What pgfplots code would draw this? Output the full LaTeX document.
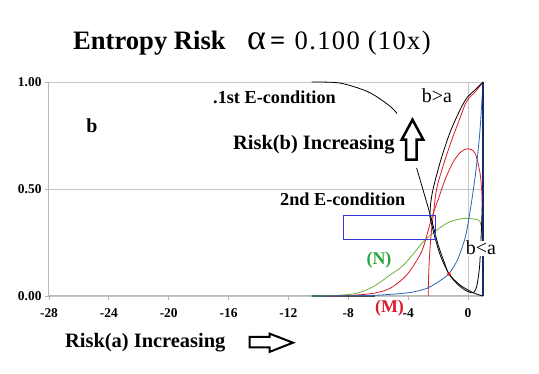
\documentclass[border=0pt]{standalone}
\usepackage{fontspec}
\setmainfont{Liberation Serif}
\usepackage{pgfplots}
\pgfplotsset{compat=1.18}
\definecolor{cgreen}{RGB}{110,178,60}
\definecolor{cred}{RGB}{220,25,40}
\definecolor{cblue}{RGB}{40,100,180}
\definecolor{cnavy}{RGB}{25,40,110}
\definecolor{cbox}{RGB}{55,55,225}
\definecolor{ngreen}{RGB}{40,165,60}
\begin{document}
\begin{tikzpicture}
\path[use as bounding box] (0,0) rectangle (539bp,374bp);
\begin{axis}[
  at={(49bp,78bp)}, anchor=south west,
  scale only axis, width=434bp, height=214bp,
  xmin=-28, xmax=1, ymin=0, ymax=1,
  axis lines*=left,
  axis line style={gray!55, line width=1bp},
  xtick={-28,-24,...,0}, ytick={0,0.5,1},
  ymajorgrids, grid style={gray!45, line width=0.8bp},
  tick align=outside, major tick length=4bp,
  tick style={gray!60, line width=0.8bp},
  /pgf/number format/assume math mode=true,
  yticklabel style={/pgf/number format/.cd, fixed, fixed zerofill, precision=2},
  xticklabel style={yshift=-5bp},
  ticklabel style={font=\bfseries\fontsize{13.5}{14}\selectfont},
  clip=false,
]
\draw[gray!45, line width=0.8bp] (axis cs:0,0) -- (axis cs:0,1);
% dark overlap along axis
\addplot[black!70, line width=1.8bp] coordinates {(-10.45,0) (-6.2,0)};
% green (N)
\addplot[cgreen, line width=0.8bp, smooth] coordinates {
(-10.5,0) (-9,0.002) (-7.44,0.0126) (-6.3,0.045) (-5.21,0.098) (-4.55,0.13) (-4.1,0.16) (-3.5,0.21) (-2.99,0.254) (-2.32,0.295) (-1.42,0.34) (-0.7,0.357) (-0.09,0.363) (0.69,0.355) (0.85,0.335) (0.95,0.28) (1,0)};
% red hump (M)
\addplot[cred, line width=0.8bp, smooth] coordinates {
(-9.5,0) (-8,0.002) (-6.33,0.0126) (-5.21,0.036) (-4.1,0.098) (-3.21,0.192) (-2.87,0.254) (-2.45,0.36) (-2.0,0.45) (-1.5,0.55) (-1.0,0.625) (-0.5,0.672) (0,0.688) (0.47,0.667) (0.8,0.575) (0.93,0.47) (0.98,0.3) (1,0)};
% red steep
\addplot[cred, line width=0.8bp, smooth] coordinates {
(-2.66,0) (-2.63,0.1) (-2.56,0.2) (-2.45,0.3) (-2.32,0.38) (-2.1,0.5) (-1.7,0.6) (-1.2,0.707) (-0.6,0.82) (-0.09,0.91) (0.5,0.955) (1,1)};
% blue
\addplot[cblue, line width=0.8bp, smooth] coordinates {
(-10.45,0) (-8,0.001) (-6,0.004) (-4,0.015) (-3,0.03) (-2.54,0.043) (-1.9,0.07) (-1.27,0.105) (-0.7,0.17) (-0.2,0.27) (0.05,0.36) (0.3,0.47) (0.55,0.6) (0.8,0.776) (1,1)};
% black decreasing
\addplot[black, line width=0.8bp, smooth] coordinates {
(-10.45,1) (-8.56,0.995) (-6.77,0.957) (-5.66,0.91) (-4.77,0.855) (-4.1,0.75) (-3.43,0.597) (-2.9,0.47) (-2.45,0.36) (-2.0,0.24) (-1.6,0.16) (-1.27,0.103) (-0.53,0.051) (0.36,0.015) (1,0)};
% black rising
\addplot[black, line width=0.8bp, smooth] coordinates {
(-2.55,0.37) (-2.5,0.43) (-2.32,0.505) (-1.8,0.64) (-1.2,0.765) (-0.6,0.86) (-0.09,0.925) (0.5,0.965) (1,1)};
% black loop lower
\addplot[black, line width=0.8bp, smooth] coordinates {
(-2.55,0.37) (-2.2,0.27) (-1.8,0.18) (-1.27,0.103) (-0.76,0.059) (-0.3,0.032) (0.02,0.02) (0.35,0.015) (0.58,0.045) (0.76,0.129) (0.85,0.238) (0.92,0.363) (0.98,0.519) (1,0.75) (1,1)};
% navy right edge
\addplot[cnavy, line width=1.4bp] coordinates {(1,0) (1,1)};
% red dot
\addplot[cred, only marks, mark=*, mark size=1.6bp] coordinates {(-1.27,0.103)};
% blue box
\draw[cbox, line width=1bp] (axis cs:-8.34,0.265) rectangle (axis cs:-2.16,0.375);
\end{axis}
% white area behind up arrow (hides the curve there)
\fill[white] (397bp,206bp) rectangle (427bp,261bp);
% title
\node[anchor=base west, inner sep=0, font=\bfseries\fontsize{26.7}{28}\selectfont] at (73bp,324.7bp) {Entropy Risk};
\node[anchor=base west, inner sep=0, font=\fontsize{36}{36}\selectfont] at (247bp,324.7bp) {α};
\node[anchor=base west, inner sep=0, font=\fontsize{26.7}{28}\selectfont] at (270bp,324.7bp) {\addfontfeature{LetterSpace=5}\textbf{=} 0.100 (10x)};
% labels
\node[anchor=base, inner sep=0, font=\bfseries\fontsize{20}{20}\selectfont] at (92bp,241bp) {b};
\node[anchor=base west, inner sep=0, font=\bfseries\fontsize{18.3}{20}\selectfont] at (213bp,270.7bp) {.1st E-condition};
\node[anchor=base west, inner sep=0, font=\fontsize{20}{20}\selectfont] at (421.7bp,271bp) {b>a};
\node[anchor=base west, inner sep=0, font=\bfseries\fontsize{20.5}{22}\selectfont] at (233bp,224bp) {Risk(b) Increasing};
\node[anchor=base west, inner sep=0, font=\bfseries\fontsize{18.3}{20}\selectfont] at (280bp,168bp) {2nd E-condition};
\node[inner sep=0, text=ngreen, font=\bfseries\fontsize{18}{18}\selectfont] at (379bp,113.5bp) {(N)};
\node[inner sep=0, text=cred, font=\bfseries\fontsize{18}{18}\selectfont] at (389.5bp,65.5bp) {(M)};
\node[anchor=base west, inner sep=0.6bp, fill=white, font=\fontsize{20}{20}\selectfont] at (465bp,119bp) {b<a};
\node[anchor=base west, inner sep=0, font=\bfseries\fontsize{20.5}{22}\selectfont] at (65bp,26.6bp) {Risk(a) Increasing};
% arrows
\draw[black, line width=2bp, line join=miter] (249.5bp,37bp) -- (269.5bp,37bp) -- (269.5bp,40.4bp) -- (293bp,31.3bp) -- (269.5bp,22.1bp) -- (269.5bp,26.6bp) -- (249.5bp,26.6bp) -- cycle;
\draw[black, line width=2.5bp, line join=miter] (406bp,214.3bp) -- (416.7bp,214.3bp) -- (416.7bp,234.3bp) -- (423.3bp,234.3bp) -- (412.5bp,254.3bp) -- (401.7bp,234.3bp) -- (406bp,234.3bp) -- cycle;
\end{tikzpicture}
\end{document}
